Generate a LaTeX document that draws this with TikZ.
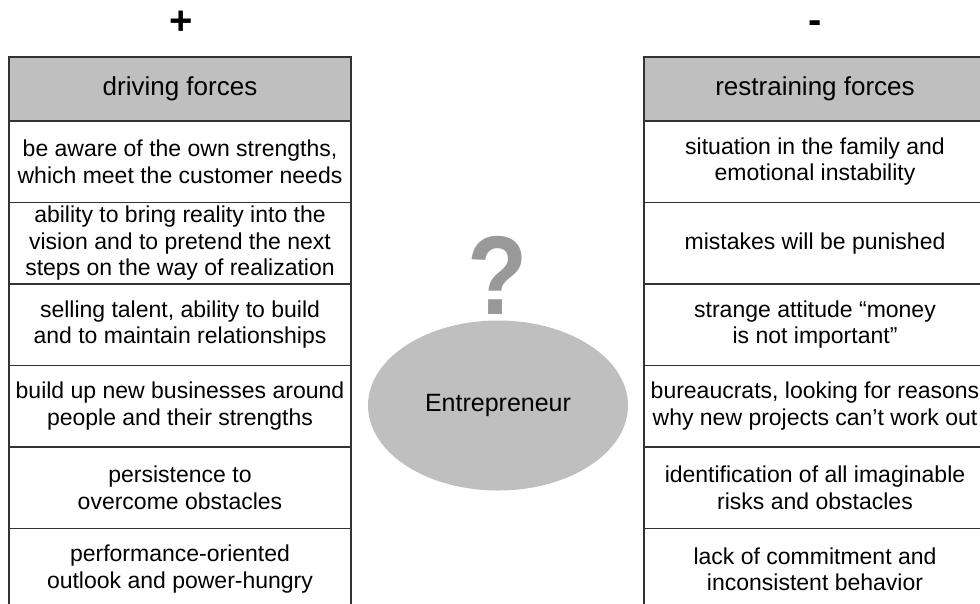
\documentclass[tikz,border=0pt]{standalone}
\usepackage{fontspec}
\setmainfont{Liberation Sans}
\usetikzlibrary{positioning,shapes.geometric}
\tikzset{
  force/.style={draw=black!80, line width=1.2pt, rectangle, outer sep=0pt, inner sep=0pt,
    minimum width=342pt, minimum height=81.5pt, align=center,
    font=\fontsize{23}{26.5}\selectfont},
  forcehead/.style={force, fill=gray!50, minimum height=64pt,
    font=\fontsize{26}{30}\selectfont},
  sign/.style={inner sep=0pt, font=\fontsize{40}{40}\selectfont\bfseries},
}

\begin{document}
\begin{tikzpicture}[x=1pt,y=-1pt]
  \useasboundingbox (0,0) rectangle (980,603);

  % signs
  \node[sign] (plus) at (181,23) {+};
  \node[sign] (minus) at (815,27) {-};

  % driving forces
  \node[forcehead] (dhead) at (180,89) {driving forces};
  \node[force, below=0pt of dhead] (d1) {be aware of the own strengths,\\which meet the customer needs};
  \node[force, below=0pt of d1] (d2) {ability to bring reality into the\\vision and to pretend the next\\steps on the way of realization};
  \node[force, below=0pt of d2] (d3) {selling talent, ability to build\\and to maintain relationships};
  \node[force, below=0pt of d3] (d4) {build up new businesses around\\people and their strengths};
  \node[force, below=0pt of d4] (d5) {persistence to\\overcome obstacles};
  \node[force, below=0pt of d5] (d6) {performance-oriented\\outlook and power-hungry};

  % restraining forces
  \node[forcehead] (rhead) at (815,89) {restraining forces};
  \node[force, below=0pt of rhead] (r1) {situation in the family and\\emotional instability};
  \node[force, below=0pt of r1] (r2) {mistakes will be punished};
  \node[force, below=0pt of r2] (r3) {strange attitude “money\\is not important”};
  \node[force, below=0pt of r3] (r4) {bureaucrats, looking for reasons\\why new projects can’t work out};
  \node[force, below=0pt of r4] (r5) {identification of all imaginable\\risks and obstacles};
  \node[force, below=0pt of r5] (r6) {lack of commitment and\\inconsistent behavior};

  % entrepreneur
  \node[ellipse, fill=gray!50, inner sep=0pt, minimum width=260pt, minimum height=170pt,
    font=\fontsize{25}{30}\selectfont] (entr) at (498,405.5) {Entrepreneur};
  \node[anchor=base, text=gray!80, inner sep=0pt, xscale=0.88, transform shape,
    font=\fontsize{112}{112}\selectfont\bfseries] (quest) at (498,314) {?};
\end{tikzpicture}
\end{document}
